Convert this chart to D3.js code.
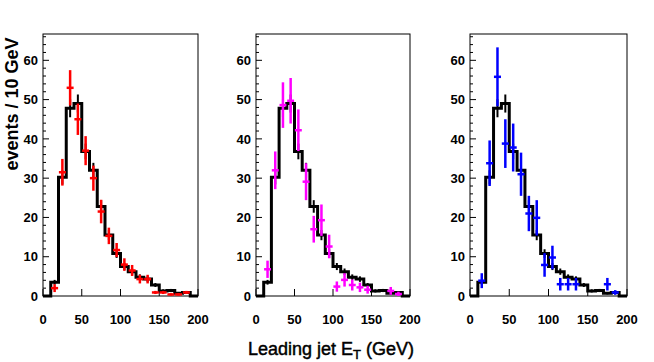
<!DOCTYPE html>
<html><head><meta charset="utf-8">
<script src="https://cdn.jsdelivr.net/npm/d3@7"></script>
<style>body{margin:0;background:#fff}svg{display:block}</style>
</head><body>
<svg id="c" width="654" height="362"></svg>
<script>
// bins of 10 GeV: lower edges
const binLow = [0,10,20,30,40,50,60,70,80,90,100,110,120,130,140,150,160,170,180,190];
const binWidth = 10;
// simulated histogram (black), same in every panel
const mc    = [0,3.5,30.2,47.8,49,36.8,32,22.8,15.5,10.8,7.5,6.2,4.8,4.3,2.8,1.3,1.4,0.7,0.9,0];
const mcErr = [0,0.6,1.8,2.3,2.3,2.0,1.9,1.6,1.3,1.1,0.9,0.8,0.7,0.7,0.5,0.4,0.4,0.3,0.3,0];
// data, panel 1 (red)
const data1 = [null,2,31.5,53,45,37,30,21.5,15.3,11.7,8,6.5,4.3,4.3,0.9,0.9,0.4,0.4,0.9,null];
const err1  = [null,1,3.4,4.5,4,3.7,3.2,3,2.1,1.8,1.6,1.4,1.1,1.1,0.4,0.4,0.3,0.3,0.4,null];
// data, panel 2 (magenta)
const data2 = [null,6.8,32,48.6,49.7,42.2,29.1,17,19.3,12.6,2.4,4.1,2.8,2.2,1.6,null,null,1.3,0.5,null];
const err2  = [null,2.2,4.8,5.8,5.8,5.3,4.7,3.4,4,3,1.3,1.7,1.4,1.2,1,null,null,1,0.6,null];
// data, panel 3 (blue)
const data3 = [null,3.9,33.8,55.8,38.8,37.8,31,21,19.9,7.9,9.8,3,3,3,null,null,null,3,0.9,null];
const err3  = [null,1.9,5.8,7.5,6.2,6.1,5.5,4.5,4.5,3,3,1.6,1.6,1.6,null,null,null,1.6,0.6,null];
const colors = ["#ff0000","#ff00ff","#0000ff"];
const xTicks = [0,50,100,150,200];
const yTicks = [0,10,20,30,40,50,60];
const yMinor = d3.range(0,67,2);
const yTitle = "events / 10 GeV";

const svg = d3.select("#c");
const panels = [{l:43,r:198},{l:256,r:410},{l:470,r:627}];
const yTop = 34, yBottom = 296;
const y = d3.scaleLinear().domain([0,66.7]).range([yBottom, yTop]);
const datasets = [[data1,err1],[data2,err2],[data3,err3]];

panels.forEach((p,pi)=>{
  const x = d3.scaleLinear().domain([0,200]).range([p.l,p.r]);
  const g = svg.append("g");
  g.append("rect").attr("x",p.l).attr("y",yTop).attr("width",p.r-p.l).attr("height",yBottom-yTop)
    .attr("fill","none").attr("stroke","#000").attr("stroke-width",1);
  g.selectAll(".ym").data(yMinor).join("line")
    .attr("x1",p.l).attr("x2",d=> p.l + (d%10===0?6:3))
    .attr("y1",d=>y(d)).attr("y2",d=>y(d)).attr("stroke","#000").attr("stroke-width",1);
  g.selectAll(".yl").data(yTicks).join("text")
    .attr("x",p.l-5).attr("y",d=>y(d)).attr("dy","0.36em").attr("text-anchor","end")
    .attr("font-family","Liberation Sans, Arial, sans-serif").attr("font-weight","bold")
    .attr("font-size",13).text(d=>d);
  g.selectAll(".xt").data(xTicks).join("line")
    .attr("x1",d=>x(d)).attr("x2",d=>x(d)).attr("y1",yBottom).attr("y2",yBottom-7)
    .attr("stroke","#000").attr("stroke-width",1);
  g.selectAll(".xl").data(xTicks).join("text")
    .attr("x",d=>x(d)).attr("y",yBottom+28).attr("text-anchor","middle")
    .attr("font-family","Liberation Sans, Arial, sans-serif").attr("font-weight","bold")
    .attr("font-size",13).text(d=>d);
  const pts = binLow.map((b,i)=>[b,mc[i]]);
  pts.push([binLow[binLow.length-1]+binWidth, mc[mc.length-1]]);
  const line = d3.line().x(d=>x(d[0])).y(d=>y(d[1])).curve(d3.curveStepAfter);
  g.append("path").attr("d",line(pts)).attr("fill","none").attr("stroke","#000")
    .attr("stroke-width",3).attr("stroke-linejoin","miter");
  g.selectAll(".me").data(binLow.map((b,i)=>({c:b+binWidth/2,v:mc[i],e:mcErr[i]})).filter(d=>d.e>0)).join("line")
    .attr("x1",d=>x(d.c)).attr("x2",d=>x(d.c)).attr("y1",d=>y(d.v-d.e)).attr("y2",d=>y(d.v+d.e))
    .attr("stroke","#000").attr("stroke-width",2);
  const [vals,errs] = datasets[pi];
  const pd = binLow.map((b,i)=>({c:b+binWidth/2,v:vals[i],e:errs[i]})).filter(d=>d.v!==null);
  const dg = g.append("g").attr("stroke",colors[pi]).attr("stroke-width",2.5);
  dg.selectAll(".v").data(pd).join("line")
    .attr("x1",d=>x(d.c)).attr("x2",d=>x(d.c)).attr("y1",d=>y(Math.max(0,d.v-d.e))).attr("y2",d=>y(d.v+d.e));
  dg.selectAll(".h").data(pd).join("line")
    .attr("x1",d=>x(d.c-4.5)).attr("x2",d=>x(d.c+4.5)).attr("y1",d=>y(d.v)).attr("y2",d=>y(d.v));
});

svg.append("text").attr("transform","translate(18,104) rotate(-90)")
  .attr("text-anchor","middle").attr("font-family","Liberation Sans, Arial, sans-serif")
  .attr("font-weight","bold").attr("font-size",18).text(yTitle);
const xt = svg.append("text").attr("x",331).attr("y",355).attr("text-anchor","middle")
  .attr("font-family","Liberation Sans, Arial, sans-serif").attr("font-size",18)
  .attr("stroke","#000").attr("stroke-width",0.45);
xt.append("tspan").text("Leading jet E");
xt.append("tspan").attr("font-size",13).attr("dy",4).text("T");
xt.append("tspan").attr("dy",-4).text(" (GeV)");
</script>
</body></html>
